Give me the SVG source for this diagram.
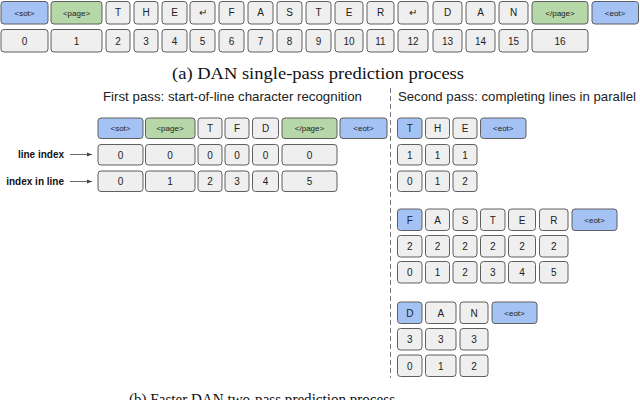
<svg xmlns="http://www.w3.org/2000/svg" width="640" height="400" viewBox="0 0 640 400">
<style>
rect{stroke:#5f5f5f;stroke-width:1;rx:3;ry:3}
.g{fill:#efefef}.b{fill:#a4c2f4}.n{fill:#b6d7a8}
text{font-family:"Liberation Sans",Arial,sans-serif;fill:#222;text-anchor:middle}
.t{font-size:10px}.s{font-size:8px}
.cap{font-family:"Liberation Serif","DejaVu Serif",serif;font-size:16px;fill:#111}
.hd{font-size:13px;text-anchor:start;fill:#222}
.lb{font-size:10px;font-weight:bold;text-anchor:end;fill:#111}
</style>
<defs>
<marker id="ah" markerWidth="6" markerHeight="6" refX="5" refY="3" orient="auto" markerUnits="userSpaceOnUse">
<path d="M0,1 L5,3 L0,5 z" fill="#444"/>
</marker>
</defs>

<g id="rowA1">
<g id="a-sot"><rect class="b" x="1" y="1.5" width="47" height="22.5"/><text class="s" x="24.5" y="15.5">&lt;sot&gt;</text></g>
<g id="a-page"><rect class="n" x="51" y="1.5" width="51" height="22.5"/><text class="s" x="76.5" y="15.5">&lt;page&gt;</text></g>
<g id="a-T1"><rect class="g" x="106" y="1.5" width="24" height="22.5"/><text class="t" x="118" y="16">T</text></g>
<g id="a-H1"><rect class="g" x="134" y="1.5" width="24" height="22.5"/><text class="t" x="146" y="16">H</text></g>
<g id="a-E1"><rect class="g" x="162" y="1.5" width="25" height="22.5"/><text class="t" x="174.5" y="16">E</text></g>
<g id="a-nl1"><rect class="g" x="190" y="1.5" width="25" height="22.5"/><text class="t" x="202.5" y="16">↵</text></g>
<g id="a-F"><rect class="g" x="219" y="1.5" width="25" height="22.5"/><text class="t" x="231.5" y="16">F</text></g>
<g id="a-A1"><rect class="g" x="248" y="1.5" width="25" height="22.5"/><text class="t" x="260.5" y="16">A</text></g>
<g id="a-S"><rect class="g" x="277" y="1.5" width="25" height="22.5"/><text class="t" x="289.5" y="16">S</text></g>
<g id="a-T2"><rect class="g" x="306" y="1.5" width="25" height="22.5"/><text class="t" x="318.5" y="16">T</text></g>
<g id="a-E2"><rect class="g" x="335" y="1.5" width="28" height="22.5"/><text class="t" x="349" y="16">E</text></g>
<g id="a-R"><rect class="g" x="367" y="1.5" width="27" height="22.5"/><text class="t" x="380.5" y="16">R</text></g>
<g id="a-nl2"><rect class="g" x="398" y="1.5" width="30" height="22.5"/><text class="t" x="413" y="16">↵</text></g>
<g id="a-D"><rect class="g" x="433" y="1.5" width="29" height="22.5"/><text class="t" x="447.5" y="16">D</text></g>
<g id="a-A2"><rect class="g" x="466" y="1.5" width="29" height="22.5"/><text class="t" x="480.5" y="16">A</text></g>
<g id="a-N"><rect class="g" x="499" y="1.5" width="29" height="22.5"/><text class="t" x="513.5" y="16">N</text></g>
<g id="a-epage"><rect class="n" x="532" y="1.5" width="56" height="22.5"/><text class="s" x="560" y="15.5">&lt;/page&gt;</text></g>
<g id="a-eot"><rect class="b" x="592" y="1.5" width="46.5" height="22.5"/><text class="s" x="615" y="15.5">&lt;eot&gt;</text></g>
</g>

<g id="rowA2">
<g id="a-i0"><rect class="g" x="1" y="29.5" width="47" height="22.5"/><text class="t" x="24.5" y="44.5">0</text></g>
<g id="a-i1"><rect class="g" x="51" y="29.5" width="51" height="22.5"/><text class="t" x="76.5" y="44.5">1</text></g>
<g id="a-i2"><rect class="g" x="106" y="29.5" width="24" height="22.5"/><text class="t" x="118" y="44.5">2</text></g>
<g id="a-i3"><rect class="g" x="134" y="29.5" width="24" height="22.5"/><text class="t" x="146" y="44.5">3</text></g>
<g id="a-i4"><rect class="g" x="162" y="29.5" width="25" height="22.5"/><text class="t" x="174.5" y="44.5">4</text></g>
<g id="a-i5"><rect class="g" x="190" y="29.5" width="25" height="22.5"/><text class="t" x="202.5" y="44.5">5</text></g>
<g id="a-i6"><rect class="g" x="219" y="29.5" width="25" height="22.5"/><text class="t" x="231.5" y="44.5">6</text></g>
<g id="a-i7"><rect class="g" x="248" y="29.5" width="25" height="22.5"/><text class="t" x="260.5" y="44.5">7</text></g>
<g id="a-i8"><rect class="g" x="277" y="29.5" width="25" height="22.5"/><text class="t" x="289.5" y="44.5">8</text></g>
<g id="a-i9"><rect class="g" x="306" y="29.5" width="25" height="22.5"/><text class="t" x="318.5" y="44.5">9</text></g>
<g id="a-i10"><rect class="g" x="335" y="29.5" width="28" height="22.5"/><text class="t" x="349" y="44.5">10</text></g>
<g id="a-i11"><rect class="g" x="367" y="29.5" width="27" height="22.5"/><text class="t" x="380.5" y="44.5">11</text></g>
<g id="a-i12"><rect class="g" x="398" y="29.5" width="30" height="22.5"/><text class="t" x="413" y="44.5">12</text></g>
<g id="a-i13"><rect class="g" x="433" y="29.5" width="29" height="22.5"/><text class="t" x="447.5" y="44.5">13</text></g>
<g id="a-i14"><rect class="g" x="466" y="29.5" width="29" height="22.5"/><text class="t" x="480.5" y="44.5">14</text></g>
<g id="a-i15"><rect class="g" x="499" y="29.5" width="29" height="22.5"/><text class="t" x="513.5" y="44.5">15</text></g>
<g id="a-i16"><rect class="g" x="532" y="29.5" width="56" height="22.5"/><text class="t" x="560" y="44.5">16</text></g>
</g>

<text class="cap" x="318" y="79" textLength="292" lengthAdjust="spacingAndGlyphs">(a) DAN single-pass prediction process</text>

<text class="hd" x="103" y="101" textLength="259" lengthAdjust="spacingAndGlyphs">First pass: start-of-line character recognition</text>
<text class="hd" x="398" y="101" textLength="238" lengthAdjust="spacingAndGlyphs">Second pass: completing lines in parallel</text>

<g id="connectors">
<line x1="390.5" y1="88" x2="390.5" y2="378" stroke="#777" stroke-width="1" stroke-dasharray="5,3"/>
<line x1="70" y1="154.5" x2="92" y2="154.5" stroke="#444" stroke-width="0.8" marker-end="url(#ah)"/>
<line x1="70" y1="181.5" x2="92" y2="181.5" stroke="#444" stroke-width="0.8" marker-end="url(#ah)"/>
</g>
<text class="lb" x="64" y="158">line index</text>
<text class="lb" x="64" y="185">index in line</text>

<g id="rowB1">
<g id="b-sot"><rect class="b" x="98" y="118" width="45" height="20.5"/><text class="s" x="120.5" y="131">&lt;sot&gt;</text></g>
<g id="b-page"><rect class="n" x="145.5" y="118" width="49.5" height="20.5"/><text class="s" x="170" y="131">&lt;page&gt;</text></g>
<g id="b-T"><rect class="g" x="198" y="118" width="24" height="20.5"/><text class="t" x="210" y="132">T</text></g>
<g id="b-F"><rect class="g" x="225" y="118" width="24" height="20.5"/><text class="t" x="237" y="132">F</text></g>
<g id="b-D"><rect class="g" x="252.5" y="118" width="26" height="20.5"/><text class="t" x="265.5" y="132">D</text></g>
<g id="b-epage"><rect class="n" x="282" y="118" width="55" height="20.5"/><text class="s" x="309.5" y="131">&lt;/page&gt;</text></g>
<g id="b-eot"><rect class="b" x="340" y="118" width="47" height="20.5"/><text class="s" x="363.5" y="131">&lt;eot&gt;</text></g>
</g>
<g id="rowB2">
<g id="b-l0"><rect class="g" x="98" y="144.5" width="45" height="20.5"/><text class="t" x="120.5" y="158.5">0</text></g>
<g id="b-l1"><rect class="g" x="145.5" y="144.5" width="49.5" height="20.5"/><text class="t" x="170" y="158.5">0</text></g>
<g id="b-l2"><rect class="g" x="198" y="144.5" width="24" height="20.5"/><text class="t" x="210" y="158.5">0</text></g>
<g id="b-l3"><rect class="g" x="225" y="144.5" width="24" height="20.5"/><text class="t" x="237" y="158.5">0</text></g>
<g id="b-l4"><rect class="g" x="252.5" y="144.5" width="26" height="20.5"/><text class="t" x="265.5" y="158.5">0</text></g>
<g id="b-l5"><rect class="g" x="282" y="144.5" width="55" height="20.5"/><text class="t" x="309.5" y="158.5">0</text></g>
</g>
<g id="rowB3">
<g id="b-p0"><rect class="g" x="98" y="171" width="45" height="20.5"/><text class="t" x="120.5" y="185">0</text></g>
<g id="b-p1"><rect class="g" x="145.5" y="171" width="49.5" height="20.5"/><text class="t" x="170" y="185">1</text></g>
<g id="b-p2"><rect class="g" x="198" y="171" width="24" height="20.5"/><text class="t" x="210" y="185">2</text></g>
<g id="b-p3"><rect class="g" x="225" y="171" width="24" height="20.5"/><text class="t" x="237" y="185">3</text></g>
<g id="b-p4"><rect class="g" x="252.5" y="171" width="26" height="20.5"/><text class="t" x="265.5" y="185">4</text></g>
<g id="b-p5"><rect class="g" x="282" y="171" width="55" height="20.5"/><text class="t" x="309.5" y="185">5</text></g>
</g>

<g id="line1">
<g id="c-T"><rect class="b" x="397.5" y="118" width="24.5" height="20.5"/><text class="t" x="409.75" y="132">T</text></g>
<g id="c-H"><rect class="g" x="425.5" y="118" width="24" height="20.5"/><text class="t" x="437.5" y="132">H</text></g>
<g id="c-E"><rect class="g" x="453" y="118" width="24" height="20.5"/><text class="t" x="465" y="132">E</text></g>
<g id="c-eot"><rect class="b" x="480.5" y="118" width="45.5" height="20.5"/><text class="s" x="503.25" y="131">&lt;eot&gt;</text></g>
<g id="c-l0"><rect class="g" x="397.5" y="144.5" width="24.5" height="20.5"/><text class="t" x="409.75" y="158.5">1</text></g>
<g id="c-l1"><rect class="g" x="425.5" y="144.5" width="24" height="20.5"/><text class="t" x="437.5" y="158.5">1</text></g>
<g id="c-l2"><rect class="g" x="453" y="144.5" width="24" height="20.5"/><text class="t" x="465" y="158.5">1</text></g>
<g id="c-p0"><rect class="g" x="397.5" y="171" width="24.5" height="20.5"/><text class="t" x="409.75" y="185">0</text></g>
<g id="c-p1"><rect class="g" x="425.5" y="171" width="24" height="20.5"/><text class="t" x="437.5" y="185">1</text></g>
<g id="c-p2"><rect class="g" x="453" y="171" width="24" height="20.5"/><text class="t" x="465" y="185">2</text></g>
</g>

<g id="line2">
<g id="d-F"><rect class="b" x="397.5" y="209" width="24.5" height="21.5"/><text class="t" x="409.75" y="223.5">F</text></g>
<g id="d-A"><rect class="g" x="425.5" y="209" width="24" height="21.5"/><text class="t" x="437.5" y="223.5">A</text></g>
<g id="d-S"><rect class="g" x="453" y="209" width="24" height="21.5"/><text class="t" x="465" y="223.5">S</text></g>
<g id="d-T"><rect class="g" x="480.5" y="209" width="24.5" height="21.5"/><text class="t" x="492.75" y="223.5">T</text></g>
<g id="d-E"><rect class="g" x="508.5" y="209" width="27" height="21.5"/><text class="t" x="522" y="223.5">E</text></g>
<g id="d-R"><rect class="g" x="539.5" y="209" width="28.5" height="21.5"/><text class="t" x="553.75" y="223.5">R</text></g>
<g id="d-eot"><rect class="b" x="572" y="209" width="45" height="21.5"/><text class="s" x="594.5" y="222.5">&lt;eot&gt;</text></g>
<g id="d-l0"><rect class="g" x="397.5" y="235.5" width="24.5" height="21.5"/><text class="t" x="409.75" y="250">2</text></g>
<g id="d-l1"><rect class="g" x="425.5" y="235.5" width="24" height="21.5"/><text class="t" x="437.5" y="250">2</text></g>
<g id="d-l2"><rect class="g" x="453" y="235.5" width="24" height="21.5"/><text class="t" x="465" y="250">2</text></g>
<g id="d-l3"><rect class="g" x="480.5" y="235.5" width="24.5" height="21.5"/><text class="t" x="492.75" y="250">2</text></g>
<g id="d-l4"><rect class="g" x="508.5" y="235.5" width="27" height="21.5"/><text class="t" x="522" y="250">2</text></g>
<g id="d-l5"><rect class="g" x="539.5" y="235.5" width="28.5" height="21.5"/><text class="t" x="553.75" y="250">2</text></g>
<g id="d-p0"><rect class="g" x="397.5" y="261.5" width="24.5" height="21.5"/><text class="t" x="409.75" y="276">0</text></g>
<g id="d-p1"><rect class="g" x="425.5" y="261.5" width="24" height="21.5"/><text class="t" x="437.5" y="276">1</text></g>
<g id="d-p2"><rect class="g" x="453" y="261.5" width="24" height="21.5"/><text class="t" x="465" y="276">2</text></g>
<g id="d-p3"><rect class="g" x="480.5" y="261.5" width="24.5" height="21.5"/><text class="t" x="492.75" y="276">3</text></g>
<g id="d-p4"><rect class="g" x="508.5" y="261.5" width="27" height="21.5"/><text class="t" x="522" y="276">4</text></g>
<g id="d-p5"><rect class="g" x="539.5" y="261.5" width="28.5" height="21.5"/><text class="t" x="553.75" y="276">5</text></g>
</g>

<g id="line3">
<g id="e-D"><rect class="b" x="397.5" y="302" width="24.5" height="21.5"/><text class="t" x="409.75" y="316.5">D</text></g>
<g id="e-A"><rect class="g" x="425.5" y="302" width="30.5" height="21.5"/><text class="t" x="440.75" y="316.5">A</text></g>
<g id="e-N"><rect class="g" x="460" y="302" width="28" height="21.5"/><text class="t" x="474" y="316.5">N</text></g>
<g id="e-eot"><rect class="b" x="492" y="302" width="45" height="21.5"/><text class="s" x="514.5" y="315.5">&lt;eot&gt;</text></g>
<g id="e-l0"><rect class="g" x="397.5" y="328.5" width="24.5" height="21.5"/><text class="t" x="409.75" y="343">3</text></g>
<g id="e-l1"><rect class="g" x="425.5" y="328.5" width="30.5" height="21.5"/><text class="t" x="440.75" y="343">3</text></g>
<g id="e-l2"><rect class="g" x="460" y="328.5" width="28" height="21.5"/><text class="t" x="474" y="343">3</text></g>
<g id="e-p0"><rect class="g" x="397.5" y="355" width="24.5" height="21.5"/><text class="t" x="409.75" y="369.5">0</text></g>
<g id="e-p1"><rect class="g" x="425.5" y="355" width="30.5" height="21.5"/><text class="t" x="440.75" y="369.5">1</text></g>
<g id="e-p2"><rect class="g" x="460" y="355" width="28" height="21.5"/><text class="t" x="474" y="369.5">2</text></g>
</g>

<text class="cap" x="262" y="405" textLength="266" lengthAdjust="spacingAndGlyphs">(b) Faster DAN two-pass prediction process</text>
</svg>
